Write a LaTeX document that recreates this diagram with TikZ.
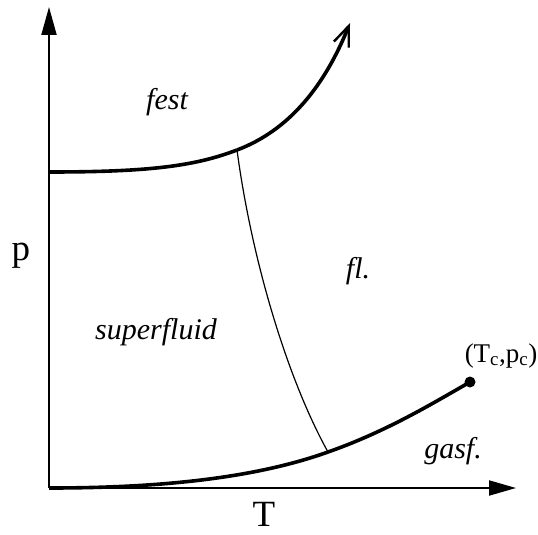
\documentclass[tikz,border=0pt]{standalone}
\usepackage{fontspec}
\setmainfont{Liberation Serif}
\usetikzlibrary{arrows.meta}
\begin{document}
\begin{tikzpicture}[x=1pt,y=-1pt,
  axis/.style={line width=2pt},
  phase/.style={line width=3.6pt},
  thinline/.style={line width=1.2pt},
  region/.style={font=\fontsize{30}{34}\selectfont\itshape, inner sep=0pt, anchor=base},
  axlabel/.style={font=\fontsize{37}{42}\selectfont, inner sep=0pt, anchor=base}]
\useasboundingbox (0,0) rectangle (538,535);
\coordinate (O) at (49,488);
\coordinate (ytip) at (49,7);
\coordinate (xtip) at (516,488);
\coordinate (s0) at (49,172);
\coordinate (tp) at (237,150);
\coordinate (up) at (350,23);
\coordinate (lp) at (328,452);
\coordinate (cp) at (470,382);
\draw[axis,-{Triangle[length=28pt,width=15pt]}] (O) -- (ytip);
\draw[axis,-{Triangle[length=27pt,width=15pt]}] (O) -- (xtip);
\draw[phase] (s0) .. controls (150,172) and (195,166) .. (tp);
\draw[phase,-{Straight Barb[length=20pt,width=16pt,line width=2.4pt]}] (tp) .. controls (290,130) and (325,85) .. (up);
\draw[phase] (O) .. controls (150,488) and (250,480) .. (lp) .. controls (385,432) and (430,405) .. (cp);
\draw[thinline] (tp) .. controls (252,262) and (288,380) .. (lp);
\fill (cp) circle (5.5);
\node[region] (fest) at (167,110) {fest};
\node[region] (fl) at (358,278) {fl.};
\node[region] (sf) at (156,339) {superfluid};
\node[region] (gasf) at (453,458) {gasf.};
\node[axlabel] (p) at (21,260) {p};
\node[axlabel] (T) at (264,526) {T};
\node[font=\fontsize{27}{32}\selectfont, inner sep=0pt, anchor=base] (tc) at (501,362) {(T\textsubscript{c},p\textsubscript{c})};
\end{tikzpicture}
\end{document}
